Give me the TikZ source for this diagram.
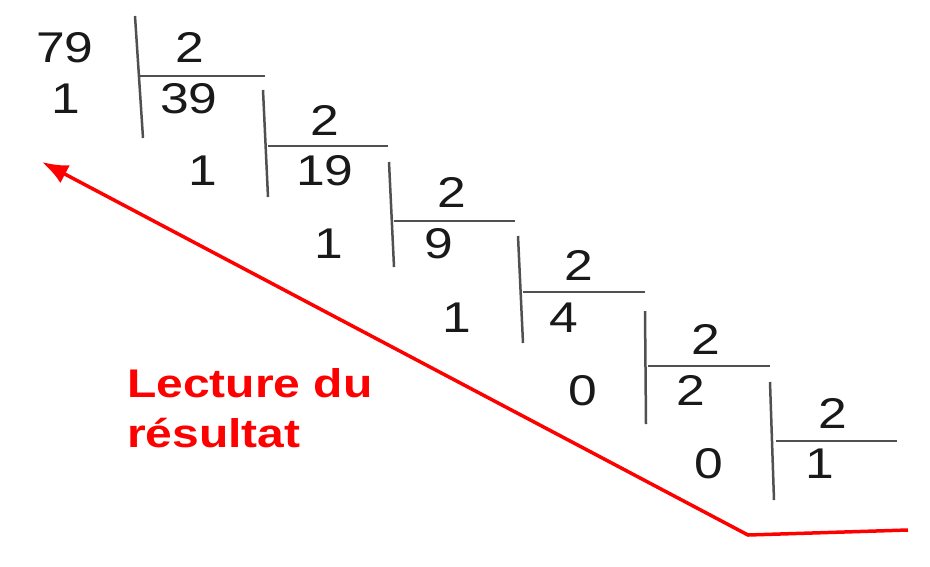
\documentclass[tikz,border=0pt]{standalone}
\usepackage{fontspec}
\setmainfont{Liberation Sans}[FakeStretch=1.2]
\usetikzlibrary{arrows.meta}
\definecolor{ink}{RGB}{25,25,25}
\definecolor{rule}{RGB}{80,80,80}
\definecolor{lred}{RGB}{255,0,0}
\tikzset{
  num/.style={anchor=base, inner sep=0pt, text=ink, font=\fontsize{43}{43}\selectfont},
  divline/.style={draw=rule, line width=2.5pt},
  lbl/.style={anchor=base west, inner sep=0pt, text=lred, font=\bfseries\fontsize{40}{48}\selectfont},
  readarrow/.style={draw=lred, line width=3.5pt, line join=miter, -{Latex[length=26pt,width=20pt]}}
}
\begin{document}
\begin{tikzpicture}[x=1pt,y=-1pt]
\useasboundingbox[fill=white] (0,0) rectangle (930,566);
% step 0
\node[num] (n79) at (65,62) {79};
\node[num] (r0) at (66,113) {1};
\node[num] (d0) at (190,62) {2};
\node[num] (q0) at (189,113) {39};
\coordinate (b0t) at (135,16); \coordinate (b0b) at (143,138);
\coordinate (h0l) at (140,76); \coordinate (h0r) at (265,76);
\draw[divline] (b0t) -- (b0b); \draw[divline] (h0l) -- (h0r);
% step 1
\node[num] (d1) at (325,135) {2};
\node[num] (q1) at (325,185) {19};
\node[num] (r1) at (203,185) {1};
\coordinate (b1t) at (263,90); \coordinate (b1b) at (268,197);
\coordinate (h1l) at (268,146); \coordinate (h1r) at (388,146);
\draw[divline] (b1t) -- (b1b); \draw[divline] (h1l) -- (h1r);
% step 2
\node[num] (d2) at (452,207) {2};
\node[num] (q2) at (439,258) {9};
\node[num] (r2) at (329,258) {1};
\coordinate (b2t) at (389,162); \coordinate (b2b) at (394,267);
\coordinate (h2l) at (394,221); \coordinate (h2r) at (515,221);
\draw[divline] (b2t) -- (b2b); \draw[divline] (h2l) -- (h2r);
% step 3
\node[num] (d3) at (579,280) {2};
\node[num] (q3) at (564,332) {4};
\node[num] (r3) at (457,332) {1};
\coordinate (b3t) at (518,236); \coordinate (b3b) at (523,343);
\coordinate (h3l) at (523,292); \coordinate (h3r) at (645,292);
\draw[divline] (b3t) -- (b3b); \draw[divline] (h3l) -- (h3r);
% step 4
\node[num] (d4) at (706,354) {2};
\node[num] (q4) at (691,405) {2};
\node[num] (r4) at (583,405) {0};
\coordinate (b4t) at (645,311); \coordinate (b4b) at (646,424);
\coordinate (h4l) at (648,366); \coordinate (h4r) at (770,366);
\draw[divline] (b4t) -- (b4b); \draw[divline] (h4l) -- (h4r);
% step 5
\node[num] (d5) at (833,428) {2};
\node[num] (q5) at (820,478) {1};
\node[num] (r5) at (709,478) {0};
\coordinate (b5t) at (770,382); \coordinate (b5b) at (774,500);
\coordinate (h5l) at (776,441); \coordinate (h5r) at (897,441);
\draw[divline] (b5t) -- (b5b); \draw[divline] (h5l) -- (h5r);
% reading arrow
\coordinate (rA) at (908,530);
\coordinate (rB) at (748,535);
\coordinate (rC) at (42,162);
\draw[readarrow] (rA) -- (rB) -- (rC);
\node[lbl] (lect1) at (127,397) {Lecture du};
\node[lbl] (lect2) at (127,447) {résultat};
\end{tikzpicture}
\end{document}
